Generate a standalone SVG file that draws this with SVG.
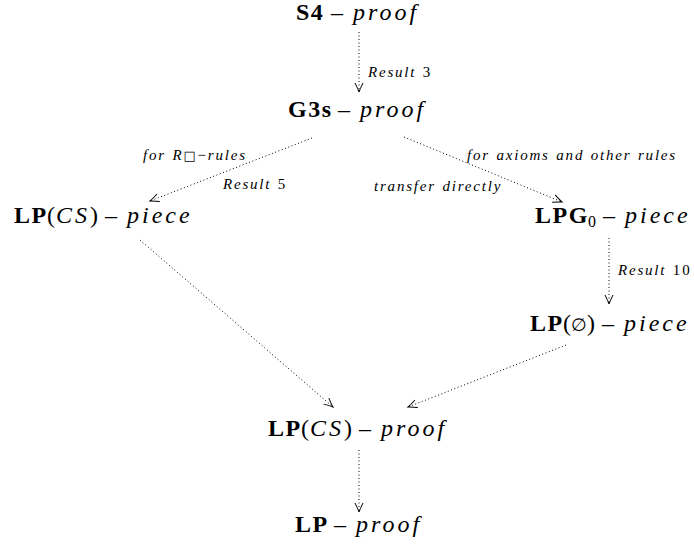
<svg xmlns="http://www.w3.org/2000/svg" width="694" height="550" viewBox="0 0 694 550">
<style>
  text { font-family: "Liberation Serif", "Times New Roman", serif; fill: #000; }
  .node { font-size: 24px; }
  .b { font-weight: bold; letter-spacing: 1.5px; }
  .i { font-style: italic; letter-spacing: 3px; }
  .ci { font-style: italic; letter-spacing: 3px; }
  .lab { font-size: 15px; font-style: italic; letter-spacing: 1.8px; word-spacing: 1px; }
  .up { font-style: normal; }
  .sym { font-family: "DejaVu Serif", serif; font-size: 18px; }
  .edge { fill: none; stroke: #000; stroke-width: 1; stroke-dasharray: 1 2.5; }
</style>
<defs>
  <marker id="ah" viewBox="-10 -6 12 12" refX="0" refY="0" markerWidth="12" markerHeight="12" markerUnits="userSpaceOnUse" orient="auto">
    <path d="M -9,-4 Q -3,-1 0,0 Q -3,1 -9,4" fill="none" stroke="#000" stroke-width="1"/>
  </marker>
</defs>
<rect width="694" height="550" fill="#fff"/>
<g id="connectors">
  <line class="edge" x1="359" y1="32" x2="359" y2="92" marker-end="url(#ah)"/>
  <line class="edge" x1="312" y1="138" x2="150" y2="201" marker-end="url(#ah)"/>
  <line class="edge" x1="404" y1="137" x2="562" y2="202" marker-end="url(#ah)"/>
  <line class="edge" x1="609" y1="238" x2="609" y2="304" marker-end="url(#ah)"/>
  <line class="edge" x1="140" y1="240" x2="333" y2="407" marker-end="url(#ah)"/>
  <line class="edge" x1="566" y1="345" x2="408" y2="407" marker-end="url(#ah)"/>
  <line class="edge" x1="359" y1="450" x2="359" y2="512" marker-end="url(#ah)"/>
  <text class="lab" x="368" y="77">Result <tspan class="up">3</tspan></text>
  <text class="lab" x="143" y="160">for R<tspan class="up" font-family="DejaVu Sans, sans-serif" font-size="13">□</tspan><tspan class="up">−</tspan>rules</text>
  <text class="lab" x="223" y="189">Result <tspan class="up">5</tspan></text>
  <text class="lab" x="467" y="160">for axioms and other rules</text>
  <text class="lab" x="374" y="191">transfer directly</text>
  <text class="lab" x="618" y="275">Result <tspan class="up">10</tspan></text>
</g>
<g id="n_s4"><text class="node" y="20"><tspan class="b" x="296">S4</tspan><tspan x="331">–</tspan><tspan class="i" x="353">proof</tspan></text></g>
<g id="n_g3s"><text class="node" y="117"><tspan class="b" x="288" letter-spacing="0">G3s</tspan><tspan x="338">–</tspan><tspan class="i" x="360">proof</tspan></text></g>
<g id="n_lpcs_piece"><text class="node" y="223"><tspan class="b" x="14">LP</tspan><tspan x="47">(</tspan><tspan class="ci" x="56">CS</tspan><tspan x="90">)</tspan><tspan x="105">–</tspan><tspan class="i" x="127">piece</tspan></text></g>
<g id="n_lpg0"><text class="node" y="223"><tspan class="b" x="535" letter-spacing="1">LPG</tspan><tspan x="588" dy="4" font-size="16">0</tspan><tspan x="603" dy="-4">–</tspan><tspan class="i" x="625">piece</tspan></text></g>
<g id="n_lpempty"><text class="node" y="331"><tspan class="b" x="530">LP</tspan><tspan x="563">(</tspan><tspan class="sym" x="571">∅</tspan><tspan x="587">)</tspan><tspan x="602">–</tspan><tspan class="i" x="624">piece</tspan></text></g>
<g id="n_lpcs_proof"><text class="node" y="436"><tspan class="b" x="268">LP</tspan><tspan x="301">(</tspan><tspan class="ci" x="310">CS</tspan><tspan x="344">)</tspan><tspan x="359">–</tspan><tspan class="i" x="381">proof</tspan></text></g>
<g id="n_lp"><text class="node" y="532"><tspan class="b" x="295">LP</tspan><tspan x="334">–</tspan><tspan class="i" x="356">proof</tspan></text></g>
</svg>
